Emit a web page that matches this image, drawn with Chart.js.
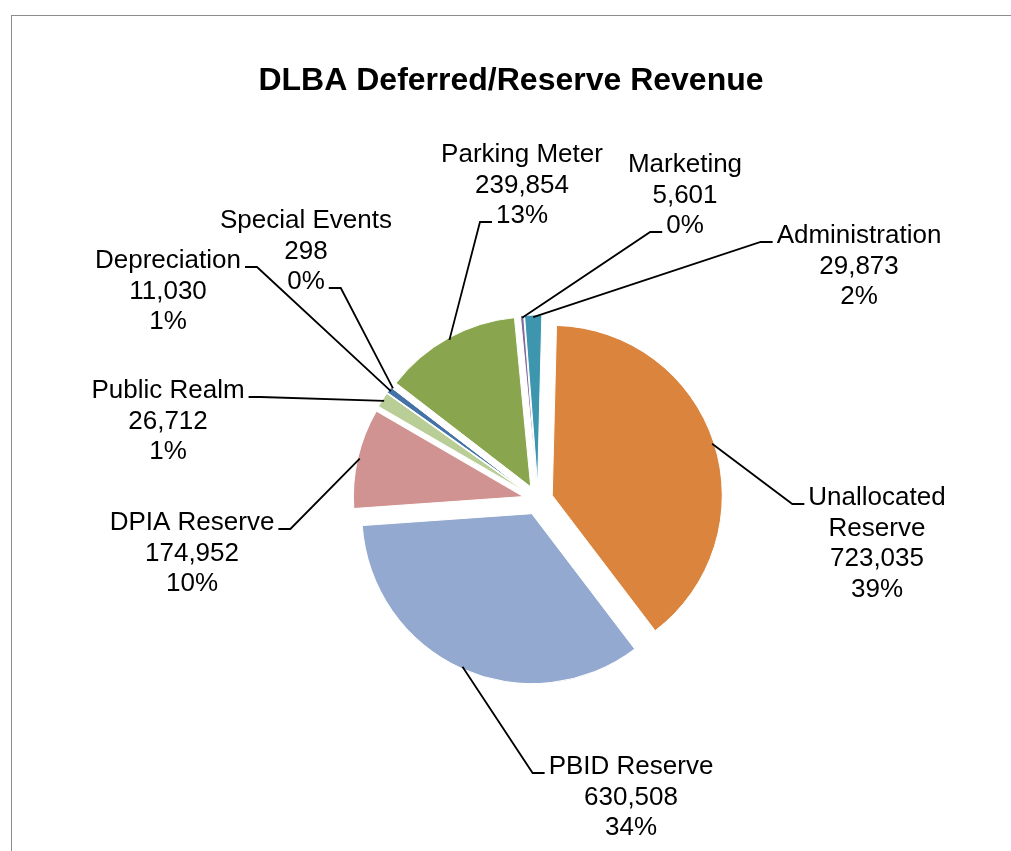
<!DOCTYPE html>
<html>
<head>
<meta charset="utf-8">
<script src="https://cdn.jsdelivr.net/npm/chart.js@4.4.0/dist/chart.umd.min.js"></script>
<style>
  html, body { margin: 0; padding: 0; background: #fff; overflow: hidden; }
  #wrap { position: relative; width: 1011px; height: 851px; }
  #frame {
    position: absolute; left: 11px; top: 15px; width: 1100px; height: 900px;
    border-left: 1.5px solid #8c8c8c; border-top: 1.5px solid #8c8c8c;
  }
  canvas { position: absolute; left: 0; top: 0; }
</style>
</head>
<body>
<div id="wrap">
  <div id="frame"></div>
  <canvas id="pie-chart" width="1011" height="851"></canvas>
</div>
<script>
const CATEGORIES = [
  "Depreciation",
  "Special Events",
  "Parking Meter",
  "Marketing",
  "Administration",
  ["Unallocated", "Reserve"],
  "PBID Reserve",
  "DPIA Reserve",
  "Public Realm",
];
const VALUES = [11030, 298, 239854, 5601, 29873, 723035, 630508, 174952, 26712];
const PERCENTS = [1, 0, 13, 0, 2, 39, 34, 10, 1];
const COLORS = [
  "#4572A7", "#AA4643", "#89A54E", "#80699B", "#3D96AE",
  "#DB843D", "#93A9CF", "#D19392", "#B9CD96",
];

// where each label sits: [centre x, first baseline y, line the leader meets, side]
const LABEL_SPOTS = [
  [168, 268, 0, "right"],
  [306, 228, 2, "right"],
  [522, 162, 2, "left"],
  [685, 172, 2, "left"],
  [859, 243, 0, "left"],
  [877, 505, 0, "left"],
  [631, 774, 0, "left"],
  [192, 530, 0, "right"],
  [168, 398, 0, "right"],
];

const EXPLODE = 15;
const LINE = 30.5;
const FONT = '26px "Liberation Sans", Arial, sans-serif';

// every slice pulled out from the centre, like Excel's exploded pie
const explode = {
  id: "explode",
  beforeDatasetDraw(chart, args) {
    const ctx = chart.ctx;
    args.meta.data.forEach((arc) => {
      const mid = (arc.startAngle + arc.endAngle) / 2;
      ctx.save();
      ctx.translate(Math.cos(mid) * EXPLODE, Math.sin(mid) * EXPLODE);
      arc.draw(ctx);
      ctx.restore();
    });
    return false;
  },
};

const labels = {
  id: "labels",
  afterDatasetsDraw(chart) {
    const ctx = chart.ctx;
    const arcs = chart.getDatasetMeta(0).data;
    ctx.save();
    ctx.fillStyle = "#000";
    ctx.textAlign = "center";
    ctx.textBaseline = "alphabetic";
    ctx.font = 'bold 32px "Liberation Sans", Arial, sans-serif';
    ctx.fillText("DLBA Deferred/Reserve Revenue", 511, 90);

    ctx.font = FONT;
    ctx.strokeStyle = "#000";
    ctx.lineWidth = 1.8;
    arcs.forEach((arc, i) => {
      const [cx, by, at, side] = LABEL_SPOTS[i];
      const name = Array.isArray(CATEGORIES[i]) ? CATEGORIES[i] : [CATEGORIES[i]];
      const lines = [...name, VALUES[i].toLocaleString("en-US"), PERCENTS[i] + "%"];
      lines.forEach((t, k) => ctx.fillText(t, cx, by + k * LINE));

      const mid = (arc.startAngle + arc.endAngle) / 2;
      const r = arc.outerRadius + EXPLODE - 2;
      const sx = arc.x + Math.cos(mid) * r;
      const sy = arc.y + Math.sin(mid) * r;
      const w = ctx.measureText(lines[at]).width;
      const ey = by + at * LINE - 1;
      const ex = side === "left" ? cx - w / 2 - 4 : cx + w / 2 + 4;
      const kx = side === "left" ? ex - 12 : ex + 12;
      ctx.beginPath();
      ctx.moveTo(sx, sy);
      ctx.lineTo(kx, ey);
      ctx.lineTo(ex, ey);
      ctx.stroke();
    });
    ctx.restore();
  },
};

new Chart(document.getElementById("pie-chart"), {
  type: "pie",
  data: {
    labels: CATEGORIES,
    datasets: [
      {
        data: VALUES,
        backgroundColor: COLORS,
        borderColor: "#fff",
        borderWidth: 1,
      },
    ],
  },
  options: {
    responsive: false,
    animation: false,
    rotation: 305.4,
    radius: 170,
    layout: {
      padding: { left: 200, right: 135, top: 250, bottom: 101 },
    },
    plugins: {
      legend: { display: false },
      tooltip: { enabled: false },
    },
  },
  plugins: [explode, labels],
});
</script>
</body>
</html>
